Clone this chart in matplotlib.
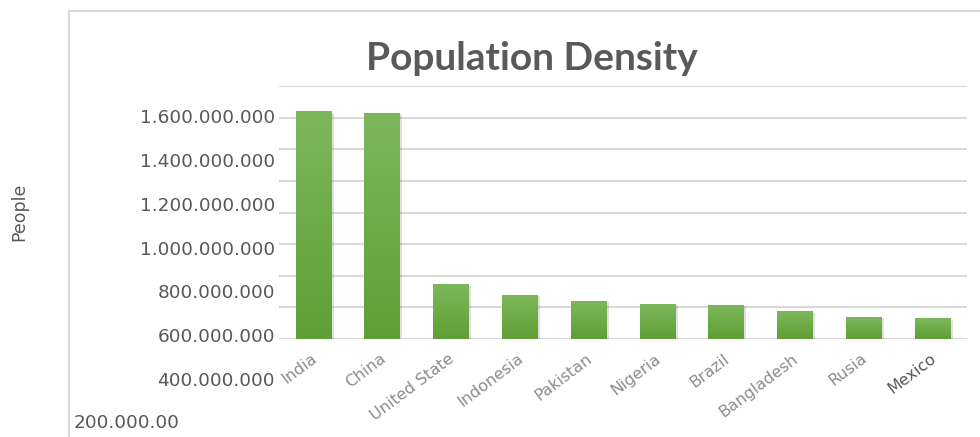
import numpy as np
import matplotlib
matplotlib.use('Agg')
import matplotlib.pyplot as plt
from matplotlib import transforms
from matplotlib.lines import Line2D

# data
countries = ['India', 'China', 'United State', 'Indonesia', 'Pakistan',
             'Nigeria', 'Brazil', 'Bangladesh', 'Rusia', 'Mexico']
people = [1437e6, 1428e6, 342e6, 278e6, 240e6, 221e6, 215e6, 171e6, 139e6, 127e6]
label_ticks = [400e6, 600e6, 800e6, 1000e6, 1200e6, 1400e6, 1600e6]
bottom_tick = 200e6

W, H = 980, 437
fig = plt.figure(figsize=(W / 100, H / 100), dpi=100)
fig.patch.set_facecolor('white')

grey = '#595959'

def fx(px):
    return px / W

def fy(py):
    return 1 - py / H

# chart frame (left + top edge only visible)
fig.add_artist(Line2D([fx(69), fx(69)], [0, fy(11)], color='#d9d9d9', lw=1.5))
fig.add_artist(Line2D([fx(69), 1], [fy(11), fy(11)], color='#d9d9d9', lw=1.5))

# main plot area
ax = fig.add_axes([fx(279), fy(339), fx(967) - fx(279), fy(86) - fy(339)])
ax.set_xlim(-0.5, len(countries) - 0.5)
ax.set_ylim(0, 1600e6)
ax.set_yticks(np.arange(0, 1600e6 + 1, 200e6))
ax.yaxis.grid(True, color='#d9d9d9', lw=1.5)
ax.set_axisbelow(True)
for s in ax.spines.values():
    s.set_visible(False)
ax.tick_params(axis='y', length=0, labelleft=False)
ax.tick_params(axis='x', length=0)

x = np.arange(len(countries))
bars = ax.bar(x, people, width=0.52, color='#6aab43', zorder=2)

# vertical gradient per bar
grad = np.linspace(0, 1, 100).reshape(-1, 1)
cmap = matplotlib.colors.LinearSegmentedColormap.from_list('g', ['#5f9f35', '#7db75b'])
for b in bars:
    x0, y0 = b.get_x(), b.get_y()
    w, h = b.get_width(), b.get_height()
    # soft shadow
    ax.bar(x0 + w / 2 + 0.02, h, width=w + 0.03, bottom=y0 - 8e6,
           color='#000000', alpha=0.12, zorder=1.5)
    ax.imshow(grad, extent=(x0, x0 + w, y0, y0 + h), origin='lower',
              cmap=cmap, aspect='auto', zorder=3)
ax.set_xlim(-0.5, len(countries) - 0.5)
ax.set_ylim(0, 1600e6)

ax.set_xticks(x)
ax.set_xticklabels(countries, rotation=37, ha='right', rotation_mode='anchor',
                   fontsize=11.5, color='#8c8c8c')
for t in ax.get_xticklabels():
    t.set_transform(t.get_transform() + transforms.ScaledTranslation(-0.03, -0.07, fig.dpi_scale_trans))
ax.get_xticklabels()[-1].set_color('#595959')

# y labels (drawn on their own scale)
ax2 = fig.add_axes([fx(279), fy(423), fx(967) - fx(279), fy(116) - fy(423)])
ax2.set_ylim(200e6, 1600e6)
ax2.patch.set_alpha(0)
for s in ax2.spines.values():
    s.set_visible(False)
ax2.set_xticks([])
ax2.set_yticks(label_ticks)
ax2.set_yticklabels([f"{int(v):,}".replace(',', '.') for v in label_ticks],
                    fontsize=13.3, color=grey)
ax2.tick_params(axis='y', length=0, pad=3)
tr = transforms.blended_transform_factory(fig.transFigure, ax2.transData)
ax2.text(fx(74), bottom_tick, f"{int(bottom_tick):,}".replace(',', '.')[:-1],
         transform=tr, ha='left', va='center', fontsize=13.3, color=grey)

fig.text(fx(19), fy(212), 'People', rotation=90, ha='center', va='center',
         fontsize=12.5, color=grey)
fig.text(fx(532), fy(59), 'Population Density', ha='center', va='center',
         fontsize=28, fontweight='bold', color=grey, family='Lato')

fig.savefig('out.png', dpi=100)
